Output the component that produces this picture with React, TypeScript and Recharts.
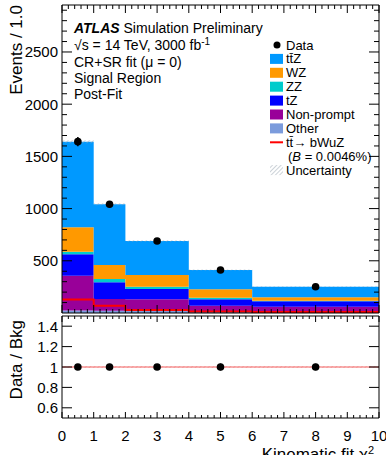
import {
  ComposedChart,
  Area,
  Line,
  Scatter,
  ErrorBar,
  XAxis,
  YAxis,
  ReferenceLine,
  ReferenceArea,
} from 'recharts';

// variable-width bins of the kinematic fit chi2
const binEdges = [0, 1, 2, 4, 6, 10];
const binCenters = [0.5, 1.5, 3, 5, 8];

// post-fit yields per unit chi2, stacked bottom to top
const other = [25, 22, 18, 15, 12];
const nonPrompt = [332, 112, 113, 55, 48];
const tZ = [205, 160, 99, 61, 52];
const zz = [25, 32, 22, 16, 6];
const wz = [234, 134, 112, 80, 32];
const ttZ = [820, 581, 326, 185, 102];
const bkgUnc = [14, 10, 7, 5, 4];

// tt -> bWuZ signal overlay
const signal = [130, 70, 28, 14, 10];

// Asimov data
const dataYield = [1641, 1041, 690, 412, 252];
const dataErr = [45, 32, 19, 14, 8];

// axis ticks
const mainYMajor = [500, 1000, 1500, 2000, 2500];
const ratioYMajor = [0.6, 0.8, 1, 1.2, 1.4];
const ratioYLabels = ['0.6', '0.8', '1', '1.2', '1.4'];
const xMajor = [0, 1, 2, 3, 4, 5, 6, 7, 8, 9, 10];

const mainYTicks = Array.from({ length: 29 }, (_, i) => (i + 1) * 100);
const xTicks = Array.from({ length: 51 }, (_, i) => Math.round(i * 2) / 10);

const legendItems = [
  { label: 'tt\u0304Z', color: '#0099ff' },
  { label: 'WZ', color: '#ff9900' },
  { label: 'ZZ', color: '#00cccc' },
  { label: 'tZ', color: '#0000ff' },
  { label: 'Non-prompt', color: '#990099' },
  { label: 'Other', color: '#7b9bdc' },
];

const histRows = binEdges.map((x, i) => {
  const b = Math.min(i, binCenters.length - 1);
  const total = other[b] + nonPrompt[b] + tZ[b] + zz[b] + wz[b] + ttZ[b];
  return {
    x,
    other: other[b],
    nonPrompt: nonPrompt[b],
    tZ: tZ[b],
    zz: zz[b],
    wz: wz[b],
    ttZ: ttZ[b],
    band: [total - bkgUnc[b], total + bkgUnc[b]],
    signal: signal[b],
  };
});

const bkgTotal = binCenters.map(
  (_, i) => other[i] + nonPrompt[i] + tZ[i] + zz[i] + wz[i] + ttZ[i],
);

const dataPoints = binCenters.map((x, i) => ({ x, y: dataYield[i], err: dataErr[i] }));
const ratioPoints = binCenters.map((x, i) => ({
  x,
  y: dataYield[i] / bkgTotal[i],
  err: dataErr[i] / bkgTotal[i],
}));

const FONT = '"Liberation Sans", Arial, Helvetica, sans-serif';
const TM = 4;

type TickCfg = {
  side: 'left' | 'right' | 'top' | 'bottom';
  major: number[];
  majorLen: number;
  minorLen: number;
  labels?: string[];
};

// ROOT-style inward ticks, drawn from the axis tick position
const makeTick = (cfg: TickCfg) => (props: any) => {
  const { x, y, payload } = props;
  const v = payload.value;
  const mi = cfg.major.findIndex((m) => Math.abs(m - v) < 1e-6);
  const len = mi >= 0 ? cfg.majorLen : cfg.minorLen;
  let line = null;
  let label = null;
  if (cfg.side === 'left') {
    const e = x + TM;
    line = <line x1={e} x2={e + len} y1={y} y2={y} stroke="#000" />;
    if (cfg.labels && mi >= 0)
      label = (
        <text x={e - 4} y={y + 5.5} textAnchor="end" fontSize={15} fill="#000" fontFamily={FONT}>
          {cfg.labels[mi]}
        </text>
      );
  } else if (cfg.side === 'right') {
    const e = x - TM;
    line = <line x1={e} x2={e - len} y1={y} y2={y} stroke="#000" />;
  } else if (cfg.side === 'top') {
    const e = y + TM;
    line = <line x1={x} x2={x} y1={e} y2={e + len} stroke="#000" />;
  } else {
    const e = y - TM;
    line = <line x1={x} x2={x} y1={e} y2={e - len} stroke="#000" />;
    if (cfg.labels && mi >= 0)
      label = (
        <text x={x} y={e + 23} textAnchor="middle" fontSize={15} fill="#000" fontFamily={FONT}>
          {cfg.labels[mi]}
        </text>
      );
  }
  return (
    <g>
      {line}
      {label}
    </g>
  );
};

const Dot = (p: any) => <circle cx={p.cx} cy={p.cy} r={3.8} fill="#000" />;

const hatchDefs = (
  <defs>
    <pattern id="hatchGrey" width="3" height="3" patternUnits="userSpaceOnUse" patternTransform="rotate(45)">
      <line x1="0" y1="0" x2="0" y2="3" stroke="#9aa6b2" strokeWidth="1" />
    </pattern>
    <pattern id="hatchRed" width="3" height="3" patternUnits="userSpaceOnUse" patternTransform="rotate(45)">
      <line x1="0" y1="0" x2="0" y2="3" stroke="#f4a0a0" strokeWidth="1" />
    </pattern>
  </defs>
);

const MainPanel = () => (
  <ComposedChart
    width={386}
    height={316}
    data={histRows}
    margin={{ top: 4, right: 6, bottom: 2, left: 0 }}
  >
    {hatchDefs}
    <XAxis
      dataKey="x"
      type="number"
      domain={[0, 10]}
      allowDataOverflow
      ticks={xTicks}
      interval={0}
      height={1}
      tickSize={0}
      tickMargin={TM}
      axisLine={{ stroke: '#000' }}
      tick={makeTick({ side: 'bottom', major: xMajor, majorLen: 8, minorLen: 4 })}
    />
    <XAxis
      xAxisId="top"
      orientation="top"
      dataKey="x"
      type="number"
      domain={[0, 10]}
      allowDataOverflow
      ticks={xTicks}
      interval={0}
      height={1}
      tickSize={0}
      tickMargin={TM}
      axisLine={{ stroke: '#000' }}
      tick={makeTick({ side: 'top', major: xMajor, majorLen: 8, minorLen: 4 })}
    />
    <YAxis
      type="number"
      domain={[0, 2950]}
      allowDataOverflow
      ticks={mainYTicks}
      interval={0}
      width={62}
      tickSize={0}
      tickMargin={TM}
      axisLine={{ stroke: '#000' }}
      tick={makeTick({
        side: 'left',
        major: mainYMajor,
        majorLen: 10,
        minorLen: 5,
        labels: mainYMajor.map(String),
      })}
    />
    <YAxis
      yAxisId="right"
      orientation="right"
      type="number"
      domain={[0, 2950]}
      allowDataOverflow
      ticks={mainYTicks}
      interval={0}
      width={1}
      tickSize={0}
      tickMargin={TM}
      axisLine={{ stroke: '#000' }}
      tick={makeTick({ side: 'right', major: mainYMajor, majorLen: 10, minorLen: 5 })}
    />
    <Area type="stepAfter" dataKey="other" stackId="bkg" stroke="none" fill="#7b9bdc" fillOpacity={1} isAnimationActive={false} />
    <Area type="stepAfter" dataKey="nonPrompt" stackId="bkg" stroke="none" fill="#990099" fillOpacity={1} isAnimationActive={false} />
    <Area type="stepAfter" dataKey="tZ" stackId="bkg" stroke="none" fill="#0000ff" fillOpacity={1} isAnimationActive={false} />
    <Area type="stepAfter" dataKey="zz" stackId="bkg" stroke="none" fill="#00cccc" fillOpacity={1} isAnimationActive={false} />
    <Area type="stepAfter" dataKey="wz" stackId="bkg" stroke="none" fill="#ff9900" fillOpacity={1} isAnimationActive={false} />
    <Area type="stepAfter" dataKey="ttZ" stackId="bkg" stroke="none" fill="#0099ff" fillOpacity={1} isAnimationActive={false} />
    <Area type="stepAfter" dataKey="band" stroke="none" fill="url(#hatchGrey)" fillOpacity={1} isAnimationActive={false} />
    <Line type="stepAfter" dataKey="signal" stroke="#ff0000" strokeWidth={2} dot={false} isAnimationActive={false} />
    <Scatter data={dataPoints} dataKey="y" shape={Dot} isAnimationActive={false}>
      <ErrorBar dataKey="err" direction="y" width={0} stroke="#000" strokeWidth={1.5} />
    </Scatter>
  </ComposedChart>
);

const RatioPanel = () => (
  <ComposedChart
    width={386}
    height={143}
    data={ratioPoints}
    margin={{ top: 3, right: 6, bottom: 0, left: 0 }}
  >
    {hatchDefs}
    <XAxis
      dataKey="x"
      type="number"
      domain={[0, 10]}
      allowDataOverflow
      ticks={xTicks}
      interval={0}
      height={37}
      tickSize={0}
      tickMargin={TM}
      axisLine={{ stroke: '#000' }}
      tick={makeTick({
        side: 'bottom',
        major: xMajor,
        majorLen: 6,
        minorLen: 3,
        labels: xMajor.map(String),
      })}
    />
    <XAxis
      xAxisId="top"
      orientation="top"
      dataKey="x"
      type="number"
      domain={[0, 10]}
      allowDataOverflow
      ticks={xTicks}
      interval={0}
      height={1}
      tickSize={0}
      tickMargin={TM}
      axisLine={{ stroke: '#000' }}
      tick={makeTick({ side: 'top', major: xMajor, majorLen: 6, minorLen: 3 })}
    />
    <YAxis
      type="number"
      domain={[0.5, 1.5]}
      allowDataOverflow
      ticks={ratioYMajor}
      interval={0}
      width={62}
      tickSize={0}
      tickMargin={TM}
      axisLine={{ stroke: '#000' }}
      tick={makeTick({
        side: 'left',
        major: ratioYMajor,
        majorLen: 10,
        minorLen: 5,
        labels: ratioYLabels,
      })}
    />
    <YAxis
      yAxisId="right"
      orientation="right"
      type="number"
      domain={[0.5, 1.5]}
      allowDataOverflow
      ticks={ratioYMajor}
      interval={0}
      width={1}
      tickSize={0}
      tickMargin={TM}
      axisLine={{ stroke: '#000' }}
      tick={makeTick({ side: 'right', major: ratioYMajor, majorLen: 10, minorLen: 5 })}
    />
    <ReferenceArea x1={0} x2={10} y1={0.99} y2={1.01} fill="url(#hatchRed)" fillOpacity={1} stroke="none" />
    <ReferenceLine y={1} stroke="#f06060" strokeWidth={1} />
    <Scatter dataKey="y" shape={Dot} isAnimationActive={false}>
      <ErrorBar dataKey="err" direction="y" width={0} stroke="#000" strokeWidth={1.5} />
    </Scatter>
  </ComposedChart>
);

const Labels = () => {
  const lx = 270;
  const tx = 286;
  const rowY = (i: number) => 45 + i * 13.9;
  return (
    <svg
      width={386}
      height={455}
      style={{ position: 'absolute', left: 0, top: 0, pointerEvents: 'none' }}
      fontFamily={FONT}
    >
      <defs>
        <pattern id="hatchLegend" width="3" height="3" patternUnits="userSpaceOnUse" patternTransform="rotate(45)">
          <line x1="0" y1="0" x2="0" y2="3" stroke="#9aa6b2" strokeWidth="1" />
        </pattern>
      </defs>
      {/* y axis titles */}
      <text x={22} y={5} transform="rotate(-90 22 5)" textAnchor="end" fontSize={17}>
        Events / 1.0
      </text>
      <text x={22} y={320} transform="rotate(-90 22 320)" textAnchor="end" fontSize={17}>
        Data / Bkg
      </text>
      <text x={374} y={460} textAnchor="end" fontSize={17}>
        Kinematic fit χ<tspan dy={-6} fontSize={11}>2</tspan>
      </text>

      {/* experiment label */}
      <g fontSize={14}>
        <text x={74} y={33}>
          <tspan fontWeight="bold" fontStyle="italic">ATLAS</tspan> Simulation Preliminary
        </text>
        <text x={74} y={50}>
          √s = 14 TeV, 3000 fb<tspan dy={-5} fontSize={10}>-1</tspan>
        </text>
        <text x={74} y={67}>CR+SR fit (μ = 0)</text>
        <text x={74} y={83}>Signal Region</text>
        <text x={74} y={99}>Post-Fit</text>
      </g>

      {/* legend */}
      <g fontSize={13}>
        <circle cx={277} cy={rowY(0)} r={3.5} fill="#000" />
        <text x={tx} y={rowY(0) + 4.5}>Data</text>
        {legendItems.map((it, i) => (
          <g key={it.label}>
            <rect x={lx} y={rowY(i + 1) - 5} width={13} height={10} fill={it.color} />
            <text x={tx} y={rowY(i + 1) + 4.5}>{it.label}</text>
          </g>
        ))}
        <line x1={lx} x2={lx + 13} y1={rowY(7)} y2={rowY(7)} stroke="#ff0000" strokeWidth={2} />
        <text x={tx} y={rowY(7) + 4.5}>tt̄→ bWuZ</text>
        <text x={tx + 2} y={rowY(8) + 4.5}>
          (<tspan fontStyle="italic">B</tspan> = 0.0046%)
        </text>
        <rect x={lx} y={rowY(9) - 5} width={13} height={10} fill="url(#hatchLegend)" />
        <text x={tx} y={rowY(9) + 4.5}>Uncertainty</text>
      </g>
    </svg>
  );
};

export default function App() {
  return (
    <div
      style={{
        position: 'absolute',
        left: 0,
        top: 0,
        width: 386,
        height: 455,
        overflow: 'hidden',
        background: '#fff',
        fontFamily: FONT,
      }}
    >
      <div style={{ position: 'absolute', left: 0, top: 0 }}>
        <MainPanel />
      </div>
      <div style={{ position: 'absolute', left: 0, top: 312 }}>
        <RatioPanel />
      </div>
      <Labels />
    </div>
  );
}
